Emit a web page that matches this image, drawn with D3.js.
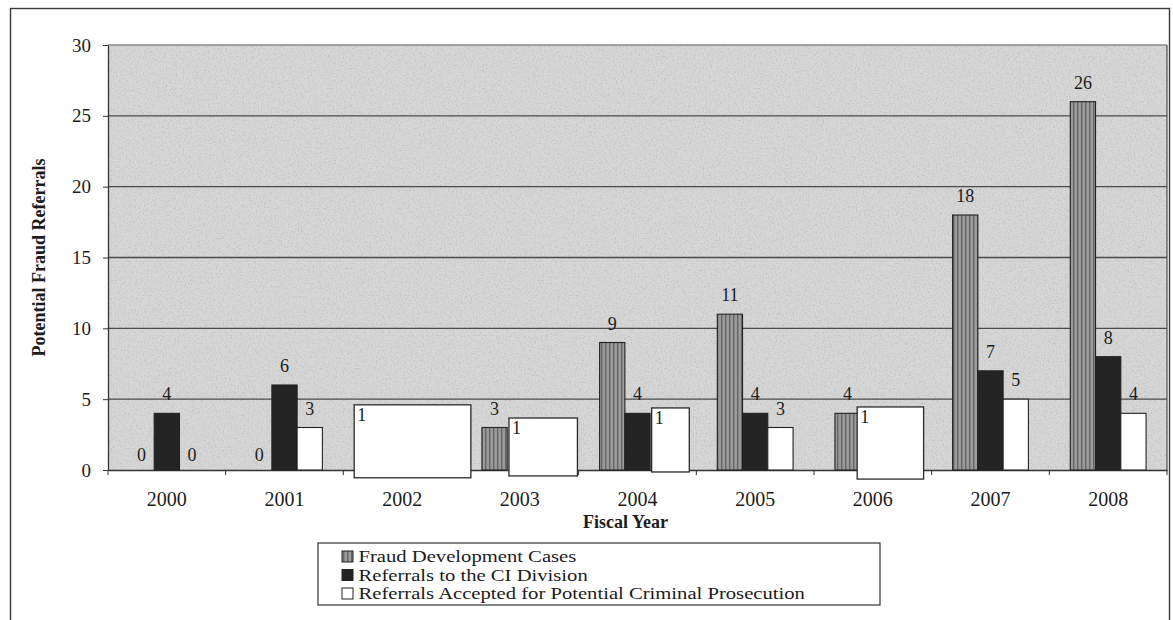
<!DOCTYPE html>
<html>
<head>
<meta charset="utf-8">
<script src="https://cdn.jsdelivr.net/npm/d3@7"></script>
<style>
body { margin: 0; background: #fff; }
text { font-family: "Liberation Serif", "Times New Roman", serif; fill: #1c1c1c; }
</style>
</head>
<body>
<div id="chart"></div>
<script>
var years = ['2000', '2001', '2002', '2003', '2004', '2005', '2006', '2007', '2008'];
var series = ['Fraud Development Cases', 'Referrals to the CI Division',
              'Referrals Accepted for Potential Criminal Prosecution'];
// null = covered by a white patch in the scan
var fraudCases = [0, 0, null, 3, 9, 11, 4, 18, 26];
var ciReferrals = [4, 6, null, null, 4, 4, null, 7, 8];
var acceptedReferrals = [0, 3, null, null, null, 3, null, 5, 4];
var yTicks = [0, 5, 10, 15, 20, 25, 30];

// white patches pasted over the bars, each marked "1"
// (extent given in bar slots inside the year group and in y values)
var patchYears = ['2002', '2003', '2004', '2006'];
var patchFrom = [-0.4, 1.07, 2.06, 0.88];
var patchTo = [4.22, 3.78, 3.55, 3.51];
var patchTop = [4.6, 3.67, 4.38, 4.45];
var patchBottom = [-0.55, -0.42, -0.14, -0.64];
var patchLabels = ['1', '1', '1', '1'];

var W = 1173, H = 620;
var margin = {left: 108, right: 6, top: 45, bottom: 150};
var plotW = W - margin.left - margin.right,
    plotH = H - margin.top - margin.bottom;

var svg = d3.select('#chart').append('svg')
    .attr('width', W)
    .attr('height', H);

var defs = svg.append('defs');

// speckled scan texture for the plot area
var grain = defs.append('filter').attr('id', 'grain')
    .attr('x', 0).attr('y', 0).attr('width', 1).attr('height', 1);
grain.append('feTurbulence')
    .attr('type', 'fractalNoise')
    .attr('baseFrequency', 0.6)
    .attr('numOctaves', 3)
    .attr('seed', 4);
grain.append('feColorMatrix')
    .attr('type', 'matrix')
    .attr('values', '0 0 0 0 0.55  0 0 0 0 0.55  0 0 0 0 0.55  3.2 0 0 0 -1.55');

var hatch = defs.append('pattern').attr('id', 'hatch')
    .attr('patternUnits', 'userSpaceOnUse')
    .attr('width', 4).attr('height', 8);
hatch.append('rect').attr('width', 4).attr('height', 8).attr('fill', '#9a9a9a');
hatch.append('rect').attr('x', 1).attr('width', 1.4).attr('height', 8).attr('fill', '#666');

// outer frame
svg.append('rect')
    .attr('x', 10.5).attr('y', 8.5)
    .attr('width', 1159).attr('height', 620)
    .attr('fill', 'none')
    .attr('stroke', '#3a3a3a')
    .attr('stroke-width', 1.4);

var g = svg.append('g')
    .attr('transform', `translate(${margin.left},${margin.top})`);

var x0 = d3.scaleBand().domain(years).range([0, plotW]);
var xSub = d3.scaleBand().domain(series)
    .range([x0.bandwidth() * 0.178, x0.bandwidth() * 0.822]);
var slot = d3.scaleLinear().domain([0, 1])
    .range([x0.bandwidth() * 0.178, x0.bandwidth() * 0.178 + xSub.bandwidth()]);
var y = d3.scaleLinear().domain([0, 30]).range([plotH, 0]);

// plot background
g.append('rect')
    .attr('width', plotW).attr('height', plotH)
    .attr('fill', '#d6d6d6');
g.append('rect')
    .attr('width', plotW).attr('height', plotH)
    .attr('filter', 'url(#grain)');

// gridlines
g.append('g')
    .selectAll('line')
    .data(yTicks.filter(function(d) { return d > 0; }))
    .enter().append('line')
    .attr('x1', 0).attr('x2', plotW)
    .attr('y1', function(d) { return y(d); })
    .attr('y2', function(d) { return y(d); })
    .attr('stroke', function(d) { return d == 30 ? '#8a8a8a' : '#4a4a4a'; })
    .attr('stroke-width', 1.3);

g.append('line')
    .attr('x1', plotW).attr('x2', plotW)
    .attr('y1', 0).attr('y2', plotH)
    .attr('stroke', '#555').attr('stroke-width', 1.3);

// y axis
var yAxis = g.append('g')
    .call(d3.axisLeft(y).tickValues(yTicks).tickSize(5).tickSizeOuter(0).tickPadding(12));
yAxis.select('.domain').attr('stroke', '#333').attr('stroke-width', 1.3);
yAxis.selectAll('.tick line').attr('stroke', '#333');
yAxis.selectAll('.tick text')
    .style('font-size', '19px')
    .attr('fill', '#1c1c1c')
    .style('font-family', '"Liberation Serif", serif');

// x axis
var xAxis = g.append('g')
    .attr('transform', `translate(0,${plotH})`)
    .call(d3.axisBottom(x0).tickSize(0).tickPadding(22));
xAxis.select('.domain').attr('stroke', '#333').attr('stroke-width', 1.3);
xAxis.selectAll('.tick text')
    .style('font-size', '20px')
    .attr('fill', '#1c1c1c')
    .style('font-family', '"Liberation Serif", serif');

g.append('g')
    .selectAll('line')
    .data(years.concat(['end']))
    .enter().append('line')
    .attr('x1', function(d) { return d == 'end' ? plotW : x0(d); })
    .attr('x2', function(d) { return d == 'end' ? plotW : x0(d); })
    .attr('y1', plotH).attr('y2', plotH + 5)
    .attr('stroke', '#333');

// bars
var seriesValues = [fraudCases, ciReferrals, acceptedReferrals];
var fills = ['url(#hatch)', '#242424', '#ffffff'];

var rows = [];
years.forEach(function(yr, i) {
    series.forEach(function(s, j) {
        rows.push({year: yr, series: s, k: j, value: seriesValues[j][i]});
    });
});
var shown = rows.filter(function(d) { return d.value !== null; });

g.append('g')
    .selectAll('rect')
    .data(shown.filter(function(d) { return d.value > 0; }))
    .enter().append('rect')
    .attr('x', function(d) { return x0(d.year) + xSub(d.series); })
    .attr('y', function(d) { return y(d.value); })
    .attr('width', xSub.bandwidth())
    .attr('height', function(d) { return y(0) - y(d.value); })
    .attr('fill', function(d) { return fills[d.k]; })
    .attr('stroke', '#222')
    .attr('stroke-width', 1.1);

g.append('g')
    .selectAll('text')
    .data(shown)
    .enter().append('text')
    .attr('x', function(d) { return x0(d.year) + xSub(d.series) + xSub.bandwidth() / 2; })
    .attr('y', function(d) { return y(d.value) - (d.value > 0 ? 13 : 9); })
    .attr('text-anchor', 'middle')
    .style('font-size', '18px')
    .text(function(d) { return d.value; });

// white patches
var patches = g.append('g')
    .selectAll('g')
    .data(patchYears)
    .enter().append('g');

patches.append('rect')
    .attr('x', function(d, i) { return x0(d) + slot(patchFrom[i]); })
    .attr('y', function(d, i) { return y(patchTop[i]); })
    .attr('width', function(d, i) { return slot(patchTo[i]) - slot(patchFrom[i]); })
    .attr('height', function(d, i) { return y(patchBottom[i]) - y(patchTop[i]); })
    .attr('fill', '#fff')
    .attr('stroke', '#2a2a2a')
    .attr('stroke-width', 1.3);

patches.append('text')
    .attr('x', function(d, i) { return x0(d) + slot(patchFrom[i]) + 3; })
    .attr('y', function(d, i) { return y(patchTop[i]) + 16; })
    .style('font-size', '18px')
    .text(function(d, i) { return patchLabels[i]; });

// axis titles
g.append('text')
    .attr('transform', 'rotate(-90)')
    .attr('x', -plotH / 2)
    .attr('y', -63)
    .attr('text-anchor', 'middle')
    .style('font-size', '18px')
    .style('font-weight', 'bold')
    .text('Potential Fraud Referrals');

g.append('text')
    .attr('x', plotW / 2 - 12)
    .attr('y', plotH + 58)
    .attr('text-anchor', 'middle')
    .style('font-size', '18px')
    .style('font-weight', 'bold')
    .text('Fiscal Year');

// legend
var legend = svg.append('g')
    .attr('transform', 'translate(318,543)');

legend.append('rect')
    .attr('width', 562).attr('height', 62)
    .attr('fill', '#fff')
    .attr('stroke', '#333')
    .attr('stroke-width', 1.2);

var items = legend.selectAll('.legend')
    .data(series)
    .enter().append('g')
    .attr('class', 'legend')
    .attr('transform', function(d, i) { return `translate(24, ${7 + i * 18.5})`; });

items.append('rect')
    .attr('y', 1)
    .attr('width', 11).attr('height', 11)
    .attr('fill', function(d, i) { return fills[i]; })
    .attr('stroke', '#222');

items.append('text')
    .attr('x', 14)
    .attr('y', 12)
    .attr('transform', 'scale(1.18,1)')
    .style('font-size', '17.5px')
    .text(function(d) { return d; });
</script>
</body>
</html>
